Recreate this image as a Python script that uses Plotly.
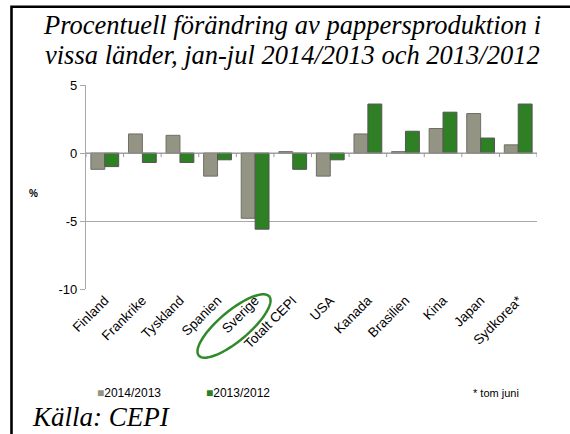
import math
import plotly.graph_objects as go

countries = ["Finland", "Frankrike", "Tyskland", "Spanien", "Sverige", "Totalt CEPI",
             "USA", "Kanada", "Brasilien", "Kina", "Japan", "Sydkorea*"]
v_2014_2013 = [-1.2, 1.4, 1.3, -1.7, -4.8, 0.1, -1.7, 1.4, 0.1, 1.8, 2.9, 0.6]
v_2013_2012 = [-1.0, -0.7, -0.7, -0.5, -5.6, -1.2, -0.5, 3.6, 1.6, 3.0, 1.1, 3.6]
series_names = ["2014/2013", "2013/2012"]
y_ticks = [5, 0, -5, -10]
y_tick_text = ["5", "0", "-5", "-10"]
colors = ["#949484", "#2f7f24"]

W, H = 570, 434
L, R, T, B = 86, 33, 85, 145
pw, ph = W - L - R, H - T - B

def px(x):
    return (x - L) / pw

def py(y):
    return (H - B - y) / ph

fig = go.Figure()
fig.add_trace(go.Bar(x=countries, y=v_2014_2013, name=series_names[0],
                     marker=dict(color=colors[0], line=dict(color="#6e6e66", width=1))))
fig.add_trace(go.Bar(x=countries, y=v_2013_2012, name=series_names[1],
                     marker=dict(color=colors[1], line=dict(color="#555555", width=1))))

shapes = []
for i in range(len(countries) + 1):
    shapes.append(dict(type="line", xref="x", yref="y", x0=i - 0.5, x1=i - 0.5,
                       y0=0, y1=-0.3, line=dict(color="#999999", width=1)))
shapes.append(dict(type="line", xref="paper", yref="y", x0=0, x1=1, y0=0, y1=0,
                   line=dict(color="#999999", width=1.2)))
# ellipse around Sverige label
cx, cy, a, b, ang = 234, 326, 46, 15, math.radians(-40)
pts = []
for k in range(73):
    t = 2 * math.pi * k / 72
    ex = a * math.cos(t)
    ey = b * math.sin(t)
    X = cx + ex * math.cos(ang) - ey * math.sin(ang)
    Y = cy + ex * math.sin(ang) + ey * math.cos(ang)
    pts.append((px(X), py(Y)))
path = "M " + " L ".join(f"{x:.4f},{y:.4f}" for x, y in pts) + " Z"
shapes.append(dict(type="path", xref="paper", yref="paper", path=path,
                   line=dict(color="#2f8a2a", width=2.5)))
# frame (left + top)
shapes.append(dict(type="path", xref="paper", yref="paper",
                   path=f"M {px(11.5):.4f},{py(440):.4f} L {px(11.5):.4f},{py(6.7):.4f} L {px(580):.4f},{py(6.7):.4f}",
                   line=dict(color="black", width=2.6)))

serif = "Liberation Serif, Times New Roman, serif"
sans = "Liberation Sans, Arial, sans-serif"
annotations = [
    dict(text="<i>Procentuell förändring av pappersproduktion i</i>",
         xref="paper", yref="paper", x=px(292), y=py(25), xanchor="center", yanchor="middle",
         showarrow=False, font=dict(family=serif, size=26.5, color="black")),
    dict(text="<i>vissa länder, jan-jul 2014/2013 och 2013/2012</i>",
         xref="paper", yref="paper", x=px(292), y=py(55), xanchor="center", yanchor="middle",
         showarrow=False, font=dict(family=serif, size=26.5, color="black")),
    dict(text="<i>Källa: CEPI</i>", xref="paper", yref="paper", x=px(30), y=py(417),
         xanchor="left", yanchor="middle", showarrow=False,
         font=dict(family=serif, size=27, color="black")),
    dict(text="<b>%</b>", xref="paper", yref="paper", x=px(33), y=py(193),
         xanchor="center", yanchor="middle", showarrow=False,
         font=dict(family=sans, size=10, color="black")),
    dict(text="* tom juni", xref="paper", yref="paper", x=px(471), y=py(393),
         xanchor="left", yanchor="middle", showarrow=False,
         font=dict(family=sans, size=11, color="black")),
]
for name, col, lx in zip(series_names, colors, [95, 204]):
    annotations.append(dict(
        text=f"<span style='color:{col}'>■</span>{name}", xref="paper", yref="paper",
        x=px(lx), y=py(393), xanchor="left", yanchor="middle", showarrow=False,
        font=dict(family=sans, size=12, color="black")))

fig.update_layout(
    width=W, height=H,
    margin=dict(l=L, r=R, t=T, b=B, autoexpand=False),
    paper_bgcolor="white", plot_bgcolor="white",
    barmode="group", bargap=0.26, bargroupgap=0,
    font=dict(family=sans, size=12, color="black"),
    showlegend=False,
    shapes=shapes, annotations=annotations,
)
fig.update_xaxes(tickangle=-45, showgrid=False, showline=False, ticks="", automargin=False,
                 tickfont=dict(size=13.5), range=[-0.5, len(countries) - 0.5])
fig.update_yaxes(range=[-10, 5], tickvals=y_ticks, ticktext=y_tick_text, automargin=False,
                 showgrid=True, gridcolor="#a8a8a8", gridwidth=1.3, zeroline=False,
                 showline=True, linecolor="#a8a8a8", linewidth=1.3, ticks="outside", ticklen=5,
                 tickcolor="#a8a8a8", tickfont=dict(size=13))

fig.write_html("out.html", config={"displayModeBar": False},
               post_script="document.body.style.margin='0';")
